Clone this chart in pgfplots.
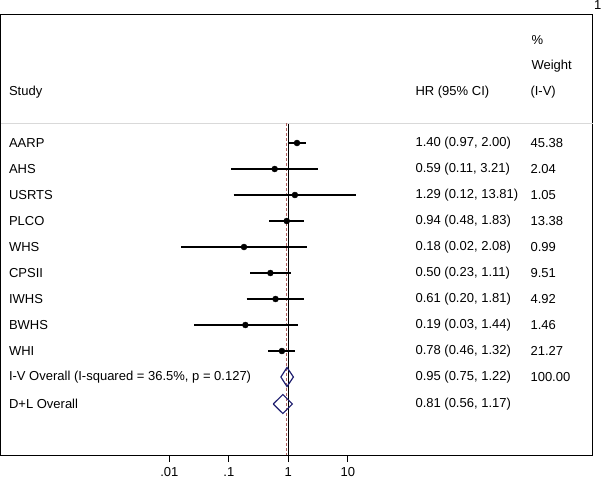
\documentclass[border=0pt]{standalone}
\usepackage{pgfplots}
\pgfplotsset{compat=1.18}
\usepackage{fontspec}
\setmainfont{Liberation Sans}
\definecolor{dlnavy}{RGB}{30,30,110}
\definecolor{refred}{RGB}{175,95,95}
\begin{document}
\begin{tikzpicture}[x=1pt,y=1pt]
\fontsize{13}{15}\selectfont
\path[use as bounding box] (0,0) rectangle (601,479);
\begin{axis}[
  at={(1pt,24pt)}, anchor=south west,
  scale only axis, width=591.5pt, height=441pt,
  xmode=log, xmin=1.4833e-5, xmax=1.2960e5,
  ymin=14, ymax=455, y dir=reverse,
  ytick=\empty,
  xtick={0.01,0.1,1,10}, xticklabels={.01,.1,1,10},
  xtick pos=bottom, tick align=outside, major tick length=7pt,
  minor tick num=0, xminorticks=false,
  tick style={black, line width=0.8pt},
  axis line style={line width=1pt},
  ticklabel style={font=\fontsize{13}{15}\selectfont},
  xticklabel style={yshift=-1pt},
  clip=false,
]
% separator under header
\addplot[black!15, line width=1pt] coordinates {(1.4833e-5,123) (1.2960e5,123)};
% reference lines
\addplot[black, line width=1.1pt] coordinates {(1,124) (1,455)};
\addplot[refred, line width=1pt, dash pattern=on 3pt off 2pt] coordinates {(0.95,123) (0.95,455)};
% confidence intervals
\addplot[black, line width=1.3pt, unbounded coords=jump] coordinates {
 (0.97,143) (2.00,143) (nan,nan)
 (0.11,169) (3.21,169) (nan,nan)
 (0.12,195) (13.81,195) (nan,nan)
 (0.48,221) (1.83,221) (nan,nan)
 (0.016,247) (2.08,247) (nan,nan)
 (0.23,273) (1.11,273) (nan,nan)
 (0.20,299) (1.81,299) (nan,nan)
 (0.026,325) (1.44,325) (nan,nan)
 (0.46,351) (1.32,351)
};
% point estimates
\addplot[only marks, mark=*, mark size=3pt, black] coordinates {
 (1.40,143) (0.59,169) (1.29,195) (0.94,221) (0.18,247)
 (0.50,273) (0.61,299) (0.19,325) (0.78,351)
};
% overall diamonds
\addplot[dlnavy, line width=1.2pt] coordinates {(0.75,377) (0.95,367.5) (1.22,377) (0.95,386.5) (0.75,377)};
\addplot[dlnavy, line width=1.2pt] coordinates {(0.56,404) (0.81,394.5) (1.17,404) (0.81,413.5) (0.56,404)};
\end{axis}
% header texts
\node[anchor=west] at (527,479-40) {\%};
\node[anchor=west] at (527,479-66) {Weight};
\node[anchor=west] at (4.5,479-92) {Study};
\node[anchor=west] at (411,479-92) {HR (95\% CI)};
\node[anchor=west] at (526,479-92) {(I-V)};
\node[anchor=north west, inner sep=0pt] at (594,478.5) {1};
% study labels
\foreach \lab/\yy in {AARP/143, AHS/169, USRTS/195, PLCO/221, WHS/247, CPSII/273, IWHS/299, BWHS/325, WHI/351,
  {I-V Overall  (I-squared = 36.5\%, p = 0.127)}/377, {D+L Overall}/404}
  \node[anchor=west] at (4.5,479-\yy) {\lab};
% HR column
\foreach \txt/\yy in {{1.40 (0.97, 2.00)}/143, {0.59 (0.11, 3.21)}/169, {1.29 (0.12, 13.81)}/195,
  {0.94 (0.48, 1.83)}/221, {0.18 (0.02, 2.08)}/247, {0.50 (0.23, 1.11)}/273, {0.61 (0.20, 1.81)}/299,
  {0.19 (0.03, 1.44)}/325, {0.78 (0.46, 1.32)}/351, {0.95 (0.75, 1.22)}/377, {0.81 (0.56, 1.17)}/404}
  \node[anchor=west] at (411,479-\yy) {\txt};
% weight column
\foreach \txt/\yy in {45.38/143, 2.04/169, 1.05/195, 13.38/221, 0.99/247, 9.51/273, 4.92/299, 1.46/325, 21.27/351, 100.00/377}
  \node[anchor=west] at (526,479-\yy) {\txt};
\end{tikzpicture}
\end{document}
